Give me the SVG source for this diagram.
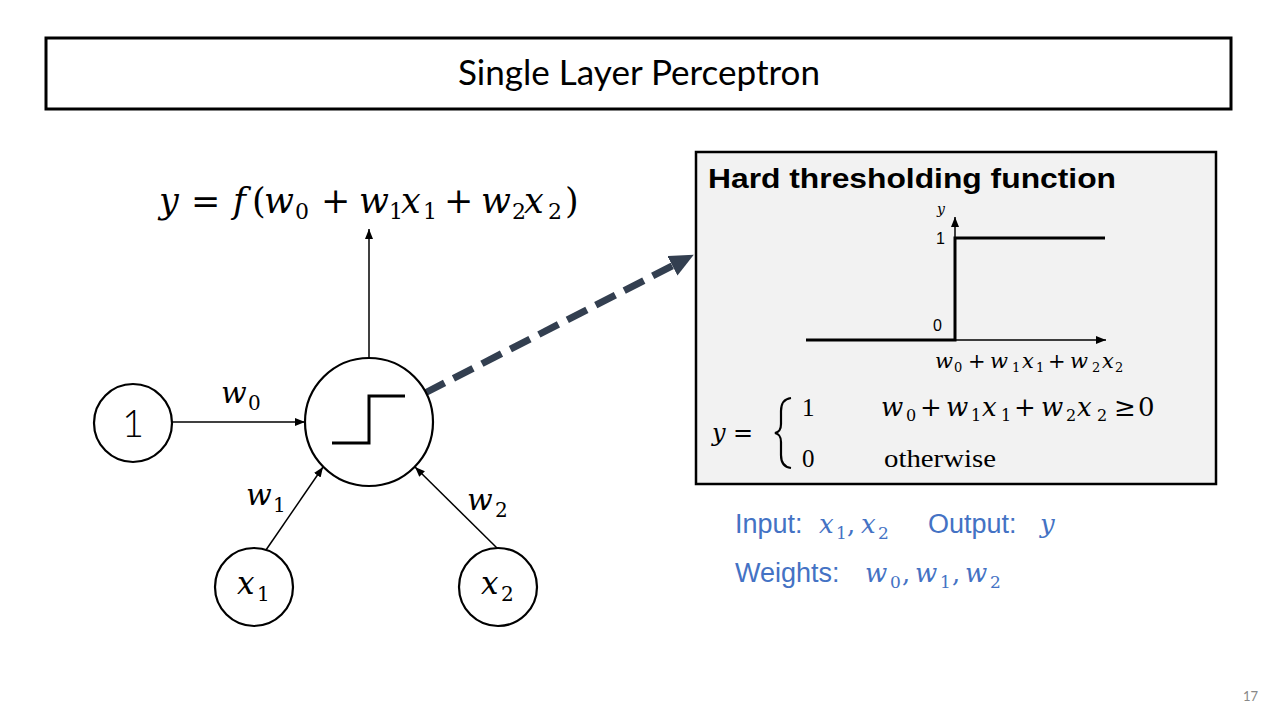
<svg xmlns="http://www.w3.org/2000/svg" width="1280" height="720" viewBox="0 0 1280 720">
<defs>
<style>
.math{font-family:"DejaVu Serif","Liberation Serif",serif;font-style:italic;}
.up{font-style:normal;}
.sans{font-family:"Liberation Sans",Arial,sans-serif;}
.thin{stroke:#000;stroke-width:1.5;fill:none;}
.node{fill:#fff;stroke:#000;stroke-width:2.2;}
.blue{fill:#4472C4;}
</style>
<marker id="ah" markerUnits="userSpaceOnUse" markerWidth="12" markerHeight="10" refX="10" refY="4" orient="auto">
<path d="M0,0 L10,4 L0,8 Z" fill="#000"/>
</marker>
<marker id="ahd" markerUnits="userSpaceOnUse" markerWidth="26" markerHeight="24" refX="4" refY="11" orient="auto">
<path d="M0,0 L24,11 L0,22 Z" fill="#333F50"/>
</marker>
</defs>
<rect width="1280" height="720" fill="#fff"/>

<g id="title">
<rect x="46" y="38" width="1185" height="71" fill="#fff" stroke="#000" stroke-width="3"/>
<text x="639" y="85" text-anchor="middle" font-family="Lato,'Open Sans',sans-serif" font-size="34" textLength="362" lengthAdjust="spacingAndGlyphs">Single Layer Perceptron</text>
</g>

<g id="connectors">
<line class="thin" x1="369" y1="358" x2="369" y2="229" marker-end="url(#ah)"/>
<line class="thin" x1="172" y1="422" x2="305" y2="422" marker-end="url(#ah)"/>
<line class="thin" x1="266" y1="550" x2="323" y2="467" marker-end="url(#ah)"/>
<line class="thin" x1="497" y1="548" x2="415" y2="467" marker-end="url(#ah)"/>
<line x1="425" y1="393" x2="676" y2="264" stroke="#333F50" stroke-width="7" stroke-dasharray="22 10" marker-end="url(#ahd)"/>
</g>

<g id="equation" class="math" font-size="35">
<text y="213"><tspan x="159">y</tspan><tspan x="191" class="up">=</tspan><tspan x="233">f</tspan><tspan x="252" class="up">(</tspan><tspan x="264">w</tspan><tspan x="321" class="up">+</tspan><tspan x="359">w</tspan><tspan x="401">x</tspan><tspan x="444" class="up">+</tspan><tspan x="481">w</tspan><tspan x="524">x</tspan><tspan x="565" class="up">)</tspan></text>
<text y="219" class="up" font-size="22"><tspan x="295">0</tspan><tspan x="389">1</tspan><tspan x="423">1</tspan><tspan x="512">2</tspan><tspan x="548">2</tspan></text>
</g>

<g id="neuron">
<circle class="node" cx="369" cy="422" r="64"/>
<path d="M332,443 L369,443 L369,396 L405,396" fill="none" stroke="#000" stroke-width="3"/>
</g>

<g id="bias">
<circle class="node" cx="133" cy="423" r="39"/>
<text x="133" y="437" text-anchor="middle" font-family="Lato,'Open Sans',sans-serif" font-weight="300" font-size="38">1</text>
</g>

<g id="input-x1">
<circle class="node" cx="254" cy="587" r="39"/>
<text y="594" class="math" font-size="31"><tspan x="237">x</tspan><tspan class="up" font-size="20" x="257" dy="7">1</tspan></text>
</g>

<g id="input-x2">
<circle class="node" cx="498" cy="587" r="39"/>
<text y="594" class="math" font-size="31"><tspan x="481">x</tspan><tspan class="up" font-size="20" x="501" dy="7">2</tspan></text>
</g>

<g id="weight-labels" class="math" font-size="30">
<text y="403"><tspan x="221">w</tspan><tspan class="up" font-size="20" x="248" dy="7">0</tspan></text>
<text y="505"><tspan x="246">w</tspan><tspan class="up" font-size="20" x="273" dy="7">1</tspan></text>
<text y="510"><tspan x="467">w</tspan><tspan class="up" font-size="20" x="495" dy="7">2</tspan></text>
</g>

<g id="threshold-box">
<rect x="696" y="152" width="520" height="332" fill="#F2F2F2" stroke="#000" stroke-width="2.5"/>
<text x="708" y="188" class="sans" font-weight="bold" font-size="28" textLength="408" lengthAdjust="spacingAndGlyphs">Hard thresholding function</text>
<line class="thin" x1="955" y1="340" x2="955" y2="217" marker-end="url(#ah)"/>
<line class="thin" x1="955" y1="340" x2="1106" y2="340" marker-end="url(#ah)"/>
<path d="M806,340 L955,340 L955,238 L1105,238" fill="none" stroke="#000" stroke-width="3"/>
<text x="937" y="214" class="math" font-size="14">y</text>
<text x="936" y="244" class="sans" font-size="16">1</text>
<text x="933" y="331" class="sans" font-size="16">0</text>
<g class="math" font-size="21">
<text y="368"><tspan x="935">w</tspan><tspan x="954" class="up" font-size="13" dy="4">0</tspan><tspan x="968" class="up" dy="-4">+</tspan><tspan x="990">w</tspan><tspan x="1012" class="up" font-size="13" dy="4">1</tspan><tspan x="1022" dy="-4">x</tspan><tspan x="1036" class="up" font-size="13" dy="4">1</tspan><tspan x="1048" class="up" dy="-4">+</tspan><tspan x="1070">w</tspan><tspan x="1092" class="up" font-size="13" dy="4">2</tspan><tspan x="1102" dy="-4">x</tspan><tspan x="1115" class="up" font-size="13" dy="4">2</tspan></text>
</g>
<text y="441" class="math" font-size="24"><tspan x="712">y</tspan><tspan x="733" class="up">=</tspan></text>
<path d="M791,398 C783,399 781,404 781,411 L781,424 C781,430 779,432 775,433 C779,434 781,436 781,442 L781,455 C781,462 783,467 791,468" fill="none" stroke="#000" stroke-width="2.2"/>
<text y="416" font-family="'Liberation Serif',serif" font-size="25"><tspan x="802">1</tspan></text>
<text y="467" font-family="'Liberation Serif',serif" font-size="25"><tspan x="802">0</tspan><tspan x="884" textLength="112" lengthAdjust="spacingAndGlyphs">otherwise</tspan></text>
<g class="math" font-size="26">
<text y="416"><tspan x="881">w</tspan><tspan x="906" class="up" font-size="16" dy="5">0</tspan><tspan x="920" class="up" dy="-5">+</tspan><tspan x="946">w</tspan><tspan x="971" class="up" font-size="16" dy="5">1</tspan><tspan x="982" dy="-5">x</tspan><tspan x="1001" class="up" font-size="16" dy="5">1</tspan><tspan x="1014" class="up" dy="-5">+</tspan><tspan x="1041">w</tspan><tspan x="1066" class="up" font-size="16" dy="5">2</tspan><tspan x="1077" dy="-5">x</tspan><tspan x="1097" class="up" font-size="16" dy="5">2</tspan><tspan x="1114" class="up" dy="-5">≥</tspan><tspan x="1138" class="up">0</tspan></text>
</g>
</g>

<g id="legend" class="blue">
<text y="533" class="sans" font-size="27"><tspan x="735">Input:</tspan><tspan x="928">Output:</tspan></text>
<text y="533" class="math" font-size="26"><tspan x="819">x</tspan><tspan x="836" class="up" font-size="17" dy="6">1</tspan><tspan x="847" class="up" dy="-6">,</tspan><tspan x="861">x</tspan><tspan x="878" class="up" font-size="17" dy="6">2</tspan><tspan x="1040" dy="-6">y</tspan></text>
<text y="582" class="sans" font-size="27"><tspan x="735">Weights:</tspan></text>
<text y="582" class="math" font-size="26"><tspan x="865">w</tspan><tspan x="890" class="up" font-size="17" dy="6">0</tspan><tspan x="902" class="up" dy="-6">,</tspan><tspan x="915">w</tspan><tspan x="940" class="up" font-size="17" dy="6">1</tspan><tspan x="952" class="up" dy="-6">,</tspan><tspan x="965">w</tspan><tspan x="990" class="up" font-size="17" dy="6">2</tspan></text>
</g>

<text x="1243" y="701" font-family="Lato,sans-serif" font-size="13" fill="#888">17</text>
</svg>
